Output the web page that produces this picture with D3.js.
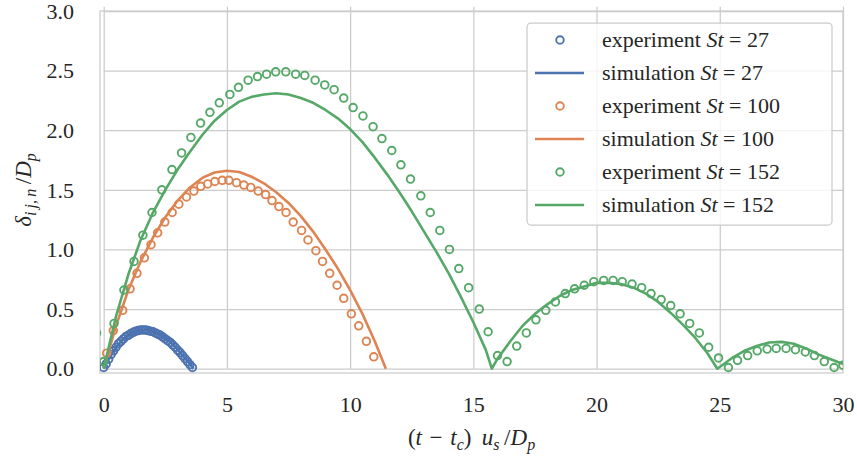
<!DOCTYPE html>
<html>
<head>
<meta charset="utf-8">
<script src="https://cdn.jsdelivr.net/npm/d3@7"></script>
<style>
  body { margin: 0; background: #fff; }
  text { font-family: "Liberation Serif", "DejaVu Serif", serif; fill: #262626; }
</style>
</head>
<body>
<svg class="chart"></svg>
<script>
var W = 857, H = 456;
var margin = {top: 11, right: 14, bottom: 83, left: 100},
    width = W - margin.left - margin.right,
    height = H - margin.top - margin.bottom;

var xTicks = [0, 5, 10, 15, 20, 25, 30];
var yTicks = [0, 0.5, 1.0, 1.5, 2.0, 2.5, 3.0];

// experiment St = 27
var exp27 = [[0.0,0.01],[0.1,0.04],[0.2,0.08],[0.3,0.12],[0.4,0.15],[0.5,0.18],[0.6,0.21],[0.7,0.23],
  [0.8,0.25],[0.9,0.27],[1.0,0.28],[1.1,0.295],[1.2,0.305],[1.3,0.315],[1.4,0.32],[1.5,0.325],
  [1.6,0.325],[1.7,0.325],[1.8,0.32],[1.9,0.315],[2.0,0.31],[2.1,0.30],[2.2,0.29],[2.3,0.28],
  [2.4,0.265],[2.5,0.25],[2.6,0.235],[2.7,0.22],[2.8,0.20],[2.9,0.18],[3.0,0.155],[3.1,0.135],
  [3.2,0.11],[3.3,0.085],[3.4,0.06],[3.5,0.035],[3.6,0.01]];
// simulation St = 27
var sim27 = [[0,0],[0.25,0.1],[0.5,0.18],[0.75,0.24],[1,0.285],[1.25,0.31],[1.5,0.325],[1.75,0.325],
  [2,0.31],[2.25,0.29],[2.5,0.26],[2.75,0.215],[3,0.16],[3.25,0.1],[3.5,0.04],[3.65,0]];

// experiment St = 100
var exp100 = [[0.12,0.13],[0.39,0.32],[0.77,0.49],[1.07,0.67],[1.35,0.80],[1.65,0.93],[1.92,1.04],
  [2.19,1.14],[2.48,1.23],[2.78,1.31],[3.05,1.38],[3.36,1.44],[3.66,1.49],[3.94,1.53],[4.22,1.55],
  [4.51,1.57],[4.81,1.58],[5.08,1.58],[5.39,1.56],[5.69,1.54],[5.97,1.52],[6.27,1.49],[6.57,1.46],
  [6.83,1.41],[7.11,1.36],[7.40,1.31],[7.69,1.23],[8.03,1.16],[8.29,1.08],[8.61,0.99],[8.88,0.90],
  [9.17,0.80],[9.47,0.70],[9.74,0.59],[10.05,0.46],[10.35,0.36],[10.66,0.23],[10.96,0.10]];
// simulation St = 100
var sim100 = [[0,0],[0.5,0.36],[1,0.66],[1.5,0.90],[2,1.10],[2.5,1.27],[3,1.41],[3.5,1.52],[4,1.60],
  [4.5,1.645],[5,1.66],[5.5,1.65],[6,1.61],[6.5,1.555],[7,1.48],[7.5,1.39],[8,1.28],[8.5,1.15],
  [9,1.00],[9.5,0.84],[10,0.66],[10.5,0.46],[11,0.23],[11.45,0]];

// experiment St = 152
var exp152 = [[-0.29,0.30],[0.0,0.06],[0.42,0.38],[0.82,0.66],[1.23,0.90],[1.59,1.12],[1.96,1.31],[2.36,1.50],
  [2.77,1.67],[3.16,1.81],[3.54,1.94],[3.93,2.06],[4.31,2.15],[4.69,2.23],[5.12,2.30],[5.47,2.36],
  [5.86,2.42],[6.24,2.45],[6.61,2.47],[6.98,2.49],[7.39,2.49],[7.79,2.47],[8.16,2.46],[8.58,2.42],
  [8.97,2.38],[9.35,2.34],[9.74,2.27],[10.12,2.19],[10.52,2.12],[10.93,2.03],[11.29,1.93],
  [11.69,1.83],[12.06,1.71],[12.45,1.59],[12.87,1.45],[13.25,1.31],[13.64,1.16],[14.03,1.00],
  [14.41,0.84],[14.81,0.68],[15.24,0.50],[15.60,0.31],[15.98,0.11],[16.37,0.06],[16.76,0.19],
  [17.15,0.30],[17.54,0.41],[17.94,0.49],[18.33,0.56],[18.73,0.63],[19.11,0.67],[19.50,0.70],
  [19.89,0.73],[20.29,0.74],[20.67,0.74],[21.04,0.73],[21.44,0.71],[21.83,0.68],[22.21,0.63],
  [22.62,0.58],[23.01,0.53],[23.39,0.46],[23.78,0.38],[24.17,0.30],[24.55,0.18],[24.95,0.09],
  [25.35,0.01],[25.72,0.07],[26.13,0.11],[26.52,0.15],[26.92,0.165],[27.29,0.17],[27.69,0.17],
  [28.07,0.16],[28.47,0.14],[28.84,0.11],[29.24,0.06],[29.64,0.01],[30.0,0.03]];
// simulation St = 152
var sim152 = [[0,0],[0.5,0.44],[1,0.79],[1.5,1.08],[2,1.31],[2.5,1.50],[3,1.67],[3.5,1.82],[4,1.96],
  [4.5,2.08],[5,2.17],[5.5,2.24],[6,2.28],[6.5,2.30],[7,2.31],[7.5,2.30],[8,2.27],[8.5,2.23],
  [9,2.17],[9.5,2.10],[10,2.01],[10.5,1.90],[11,1.77],[11.5,1.63],[12,1.48],[12.5,1.32],[13,1.15],
  [13.5,0.98],[14,0.80],[14.5,0.60],[15,0.39],[15.5,0.16],[15.75,0],
  [16,0.09],[16.5,0.23],[17,0.36],[17.5,0.46],[18,0.54],[18.5,0.61],[19,0.66],[19.5,0.69],
  [20,0.72],[20.5,0.72],[21,0.71],[21.5,0.68],[22,0.63],[22.5,0.56],[23,0.47],[23.5,0.37],
  [24,0.26],[24.5,0.13],[24.9,0],
  [25.5,0.09],[26,0.15],[26.5,0.19],[27,0.22],[27.5,0.225],[28,0.21],[28.5,0.17],[29,0.12],
  [29.5,0.08],[30,0.04]];

var colors = {"27": "#4c72b0", "100": "#dd8452", "152": "#55a868"};
var series = [
  {st: "27", exp: exp27, sim: sim27},
  {st: "100", exp: exp100, sim: sim100},
  {st: "152", exp: exp152, sim: sim152}
];

var x = d3.scaleLinear().domain([-0.15, 30]).range([0, width]);
var y = d3.scaleLinear().domain([-0.036, 3.0]).range([height, 0]);

var svg = d3.select(".chart")
    .attr("width", W)
    .attr("height", H);

svg.append("defs").append("clipPath")
    .attr("id", "plotclip")
  .append("rect")
    .attr("x", margin.left)
    .attr("y", margin.top)
    .attr("width", width)
    .attr("height", height);

var chart = svg.append("g")
    .attr("transform", "translate(" + margin.left + "," + margin.top + ")");

// grid
var xAxis = d3.axisBottom(x).tickValues(xTicks).tickSize(-height).tickFormat(d3.format("d"));
var yAxis = d3.axisLeft(y).tickValues(yTicks).tickSize(-width).tickFormat(d3.format(".1f"));

var gx = chart.append("g")
    .attr("class", "x axis")
    .attr("transform", "translate(0," + height + ")")
    .call(xAxis);
gx.select(".domain").remove();
gx.selectAll("line")
    .attr("transform", "translate(0," + (y(0) - height) + ")")
    .attr("stroke", "#cccccc").attr("stroke-width", 1.25);
gx.selectAll("text")
    .attr("y", 0).attr("dy", null)
    .attr("transform", "translate(0,39)")
    .style("font-size", "22px")
    .style("font-family", "'Liberation Serif', serif")
    .attr("fill", "#262626");

var gy = chart.append("g")
    .attr("class", "y axis")
    .call(yAxis);
gy.select(".domain").remove();
gy.selectAll("line")
    .attr("transform", "translate(" + x(0) + ",0)")
    .attr("x2", width - x(0))
    .attr("stroke", "#cccccc").attr("stroke-width", 1.25);
gy.selectAll("text")
    .attr("x", -26).attr("dy", "0.33em")
    .style("font-size", "22px")
    .style("font-family", "'Liberation Serif', serif")
    .attr("fill", "#262626");

chart.append("rect")
    .attr("width", width)
    .attr("height", height)
    .attr("fill", "none")
    .attr("stroke", "#cccccc")
    .attr("stroke-width", 1.25);

var line = d3.line()
    .x(function(d) { return x(d[0]); })
    .y(function(d) { return y(d[1]); });

// clip on an untransformed wrapper so the clip rect is in page coordinates
var plot = svg.append("g")
    .attr("clip-path", "url(#plotclip)")
  .append("g")
    .attr("transform", "translate(" + margin.left + "," + margin.top + ")");

series.forEach(function(s) {
  plot.append("path")
      .datum(s.sim)
      .attr("d", line)
      .attr("fill", "none")
      .attr("stroke", colors[s.st])
      .attr("stroke-width", 2.6)
      .attr("stroke-linejoin", "round");

  plot.append("g").selectAll("circle")
      .data(s.exp)
      .enter().append("circle")
      .attr("cx", function(d) { return x(d[0]); })
      .attr("cy", function(d) { return y(d[1]); })
      .attr("r", 3.8)
      .attr("fill", "none")
      .attr("stroke", colors[s.st])
      .attr("stroke-width", 1.9);
});

// axis labels
var xl = svg.append("text")
    .attr("x", margin.left + width / 2)
    .attr("y", 445)
    .attr("text-anchor", "middle")
    .style("font-size", "23px");
xl.append("tspan").text("(");
xl.append("tspan").style("font-style", "italic").text("t");
xl.append("tspan").text("\u2004\u2212\u2004");
xl.append("tspan").style("font-style", "italic").text("t");
xl.append("tspan").style("font-style", "italic").style("font-size", "16px").attr("dy", 5).text("c");
xl.append("tspan").attr("dy", -5).text(")\u2009 ");
xl.append("tspan").style("font-style", "italic").text("u");
xl.append("tspan").style("font-style", "italic").style("font-size", "16px").attr("dy", 5).text("s");
xl.append("tspan").attr("dy", -5).text("\u2009/");
xl.append("tspan").style("font-style", "italic").text("D");
xl.append("tspan").style("font-style", "italic").style("font-size", "16px").attr("dy", 5).text("p");

var yl = svg.append("text")
    .attr("transform", "translate(31," + (margin.top + height / 2 - 2) + ") rotate(-90)")
    .attr("text-anchor", "middle")
    .style("font-size", "23px");
yl.append("tspan").style("font-style", "italic").text("\u03b4");
yl.append("tspan").style("font-style", "italic").style("font-size", "16px").attr("dy", 5).text("i\u2009j,\u2009n");
yl.append("tspan").attr("dy", -5).text("\u2009/");
yl.append("tspan").style("font-style", "italic").text("D");
yl.append("tspan").style("font-style", "italic").style("font-size", "16px").attr("dy", 5).text("p");

// legend
var legendItems = [];
series.forEach(function(s) {
  legendItems.push({kind: "exp", st: s.st, label: "experiment "});
  legendItems.push({kind: "sim", st: s.st, label: "simulation "});
});

var legend = svg.append("g").attr("transform", "translate(527,23)");
legend.append("rect")
    .attr("width", 305)
    .attr("height", 202)
    .attr("rx", 4)
    .attr("fill", "#ffffff")
    .attr("fill-opacity", 0.8)
    .attr("stroke", "#cccccc")
    .attr("stroke-width", 1.25);

var item = legend.selectAll(".legend")
    .data(legendItems)
    .enter().append("g")
    .attr("class", "legend")
    .attr("transform", function(d, i) { return "translate(0," + (17 + i * 33) + ")"; });

item.filter(function(d) { return d.kind == "exp"; })
  .append("circle")
    .attr("cx", 33)
    .attr("r", 3.8)
    .attr("fill", "none")
    .attr("stroke", function(d) { return colors[d.st]; })
    .attr("stroke-width", 1.9);

item.filter(function(d) { return d.kind == "sim"; })
  .append("line")
    .attr("x1", 8).attr("x2", 57)
    .attr("stroke", function(d) { return colors[d.st]; })
    .attr("stroke-width", 2.6);

var lt = item.append("text")
    .attr("x", 75)
    .attr("dy", "0.33em")
    .style("font-size", "22px");
lt.append("tspan").text(function(d) { return d.label; });
lt.append("tspan").style("font-style", "italic").text("St");
lt.append("tspan").text(function(d) { return " = " + d.st; });
</script>
</body>
</html>
